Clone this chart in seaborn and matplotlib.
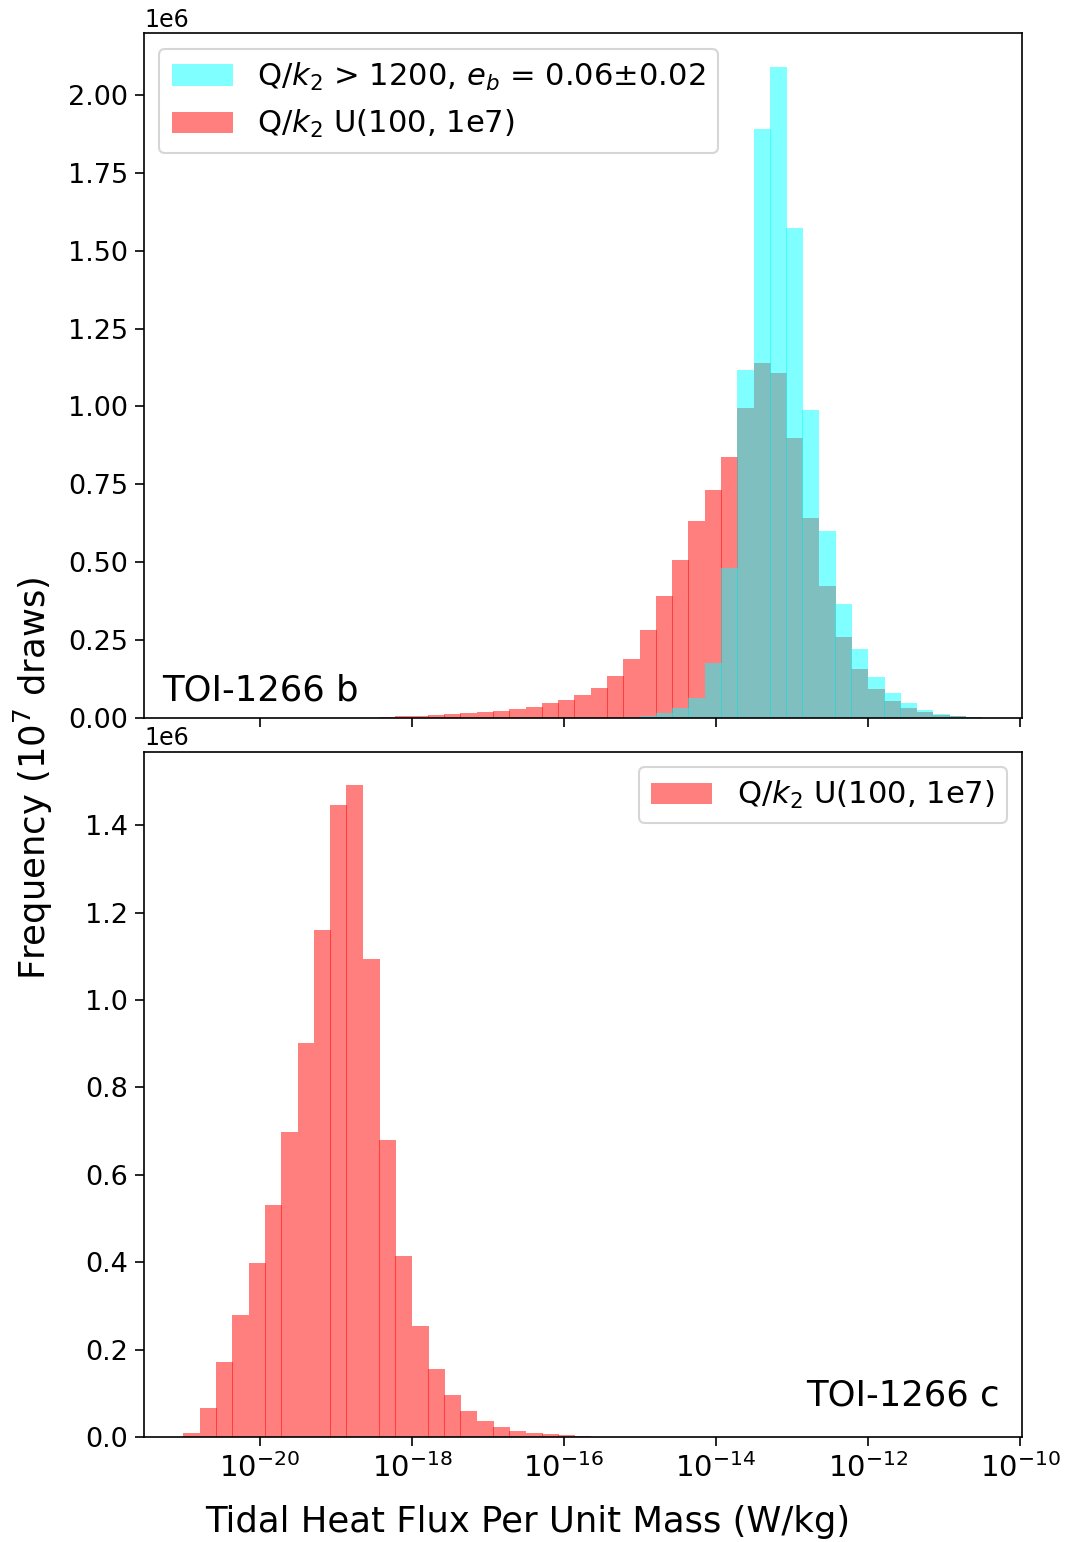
import numpy as np
import pandas as pd
import matplotlib
matplotlib.use("Agg")
import matplotlib.pyplot as plt
from matplotlib.patches import Patch
import seaborn as sns

# Shared log10 binning: 49 bins of 3/14 dex from 1e-21 to 10**-10.5
LOG_LO, LOG_HI, N_BINS = -21.0, -10.5, 49

log_edges = np.linspace(LOG_LO, LOG_HI, N_BINS + 1)
bin_centers = 10 ** (0.5 * (log_edges[:-1] + log_edges[1:]))

# Counts per bin, in units of 1e6 draws
b_uniform = [
    0, 0, 0, 0, 0, 0, 0, 0, 0, 0, 0, 0, 0.002,
    0.006, 0.006, 0.009, 0.010, 0.013, 0.017, 0.022, 0.027, 0.035, 0.045,
    0.055, 0.071, 0.095, 0.132, 0.189, 0.282, 0.392, 0.506, 0.630, 0.730,
    0.837, 0.994, 1.139, 1.108, 0.898, 0.642, 0.424, 0.259, 0.156, 0.092,
    0.052, 0.031, 0.017, 0.008, 0.004, 0.002,
]
b_constrained = [
    0, 0, 0, 0, 0, 0, 0, 0, 0, 0, 0, 0, 0, 0, 0, 0, 0, 0, 0, 0, 0, 0, 0,
    0, 0, 0, 0, 0.003, 0.006, 0.014, 0.029, 0.063, 0.176, 0.479, 1.116,
    1.893, 2.091, 1.574, 0.987, 0.601, 0.366, 0.221, 0.130, 0.079, 0.047,
    0.024, 0.011, 0.006, 0.003,
]
c_uniform = [
    0.010, 0.067, 0.171, 0.280, 0.399, 0.532, 0.698, 0.901, 1.161, 1.447,
    1.492, 1.094, 0.680, 0.415, 0.254, 0.156, 0.096, 0.060, 0.037, 0.023,
    0.014, 0.009, 0.006, 0.004, 0.002, 0.001,
    0, 0, 0, 0, 0, 0, 0, 0, 0, 0, 0, 0, 0, 0, 0, 0, 0, 0, 0, 0, 0, 0, 0,
]

label_constrained = "Q/$k_2$ > 1200, $e_b$ = 0.06\u00b10.02"
label_uniform = "Q/$k_2$ U(100, 1e7)"

CYAN = "cyan"
RED = "red"
ALPHA = 0.5

W, H, DPI = 1067, 1542, 150
fig = plt.figure(figsize=(W / DPI, H / DPI), dpi=DPI)

left, right = 144 / W, 1022 / W
ax_b = fig.add_axes([left, 1 - 717.5 / H, right - left, (717.5 - 33.3) / H])
ax_c = fig.add_axes([left, 1 - 1437 / H, right - left, (1437 - 751.5) / H],
                    sharex=ax_b)


def hist(ax, counts, color):
    df = pd.DataFrame({"flux": bin_centers,
                       "n": np.asarray(counts, dtype=float) * 1e6})
    # bars overlap by a fraction of a pixel, so neighbouring translucent
    # bars leave thin darker seams between them
    sns.histplot(data=df, x="flux", weights="n",
                 bins=N_BINS, binrange=(LOG_LO, LOG_HI), log_scale=True,
                 stat="count", color=color, alpha=ALPHA, shrink=1.04,
                 linewidth=0, edgecolor="none", ax=ax)


# Planet b: wide prior first, constrained run drawn over it
hist(ax_b, b_uniform, RED)
hist(ax_b, b_constrained, CYAN)
# Planet c
hist(ax_c, c_uniform, RED)

for ax in (ax_b, ax_c):
    ax.set_xlim(10 ** -21.525, 10 ** -9.975)
    ax.set_ylabel("")
    ax.set_xlabel("")
    ax.tick_params(axis="y", labelsize=13, length=4.2)
    ax.tick_params(axis="x", labelsize=14, length=4.2)
    ax.yaxis.get_offset_text().set_fontsize(11.4)
    ax.xaxis.set_minor_locator(matplotlib.ticker.NullLocator())

ax_b.tick_params(labelbottom=False)
ax_b.set_ylim(0, 2.199e6)
ax_c.set_ylim(0, 1.569e6)

h_cyan = Patch(facecolor=CYAN, alpha=ALPHA, edgecolor="none")
h_red = Patch(facecolor=RED, alpha=ALPHA, edgecolor="none")
ax_b.legend([h_cyan, h_red], [label_constrained, label_uniform],
            loc="upper left", fontsize=14.7)
ax_c.legend([h_red], [label_uniform], loc="upper right", fontsize=14.7)

ax_b.text(0.0205, 0.040, "TOI-1266 b", transform=ax_b.transAxes,
          fontsize=17, ha="left", va="center")
ax_c.text(0.975, 0.061, "TOI-1266 c", transform=ax_c.transAxes,
          fontsize=17, ha="right", va="center")

fig.text(528 / W, 1 - 1522 / H, "Tidal Heat Flux Per Unit Mass (W/kg)",
         fontsize=17, ha="center", va="center")
fig.text(33 / W, 1 - 778 / H, "Frequency (10$^7$ draws)",
         fontsize=17, ha="center", va="center", rotation=90)

fig.savefig("out.png", dpi=DPI)
